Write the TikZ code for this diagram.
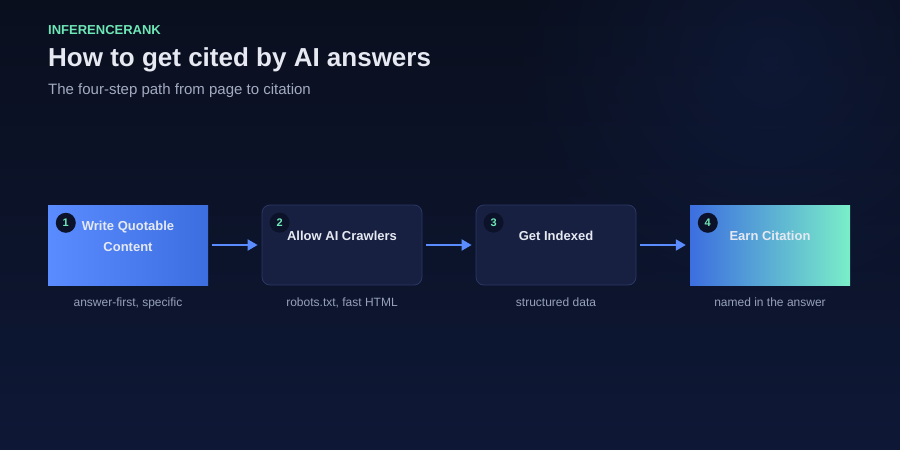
\documentclass[tikz,border=0pt]{standalone}
\usepackage{fontspec}
\setmainfont{Liberation Sans}
\usetikzlibrary{positioning,arrows.meta,fadings}
\definecolor{irBgTop}{HTML}{0A0F1E}
\definecolor{irBgBot}{HTML}{0E1836}
\definecolor{irGlow}{HTML}{12214A}
\definecolor{irGreen}{HTML}{6EE7B7}
\definecolor{irText}{HTML}{E6E9F2}
\definecolor{irMuted}{HTML}{A3ABC3}
\definecolor{irCap}{HTML}{98A1BA}
\definecolor{irBlue}{HTML}{5B8CFF}
\definecolor{irBlueDk}{HTML}{3C6EE0}
\definecolor{irMint}{HTML}{7AEEC8}
\definecolor{irCard}{HTML}{172040}
\definecolor{irEdge}{HTML}{2B3763}
\definecolor{irBadge}{HTML}{0B1229}
\tikzfading[name=glowfade, inner color=transparent!55, outer color=transparent!100]

\begin{document}
\begin{tikzpicture}[x=1pt,y=-1pt,
  card/.style={minimum width=160pt, minimum height=80pt, inner sep=0pt},
  darkcard/.style={card, rounded corners=8pt, fill=irCard, draw=irEdge, line width=0.8pt},
  badge/.style={circle, fill=irBadge, minimum size=20pt, inner sep=0pt, text=irGreen, font=\bfseries\fontsize{11}{13}\selectfont},
  cardtitle/.style={text=irText, align=center, font=\bfseries\fontsize{13}{21}\selectfont},
  caption/.style={text=irCap, inner sep=0pt, font=\fontsize{12}{14}\selectfont},
  flow/.style={irBlue, line width=2pt, -{Triangle[length=10pt,width=11pt]}, shorten <=4pt, shorten >=4pt}]
  % Background
  \useasboundingbox (0,0) rectangle (900,450);
  \clip (0,0) rectangle (900,450);
  \shade[top color=irBgTop, bottom color=irBgBot] (0,0) rectangle (900,450);
  \fill[irGlow, path fading=glowfade] (770,60) circle (260);

  % Header
  \node[anchor=base west, inner sep=0pt, text=irGreen, font=\bfseries\fontsize{13}{15}\selectfont] (brand) at (48,34) {INFERENCERANK};
  \node[anchor=base west, inner sep=0pt, text=irText, font=\bfseries\fontsize{26}{30}\selectfont] (title) at (48,66) {How to get cited by AI answers};
  \node[anchor=base west, inner sep=0pt, text=irMuted, font=\fontsize{15}{18}\selectfont] (subtitle) at (48,94) {The four-step path from page to citation};

  % Steps
  \node[card, left color=irBlue, right color=irBlueDk] (write) at (128,245) {};
  \node[darkcard] (allow) at (342,245) {};
  \node[darkcard] (index) at (556,245) {};
  \node[card, left color=irBlueDk, right color=irMint] (earn) at (770,245) {};

  \node[cardtitle] (t1) at (128,236) {Write Quotable\\Content};
  \node[cardtitle] (t2) at ([yshift=9pt]allow.center) {Allow AI Crawlers};
  \node[cardtitle] (t3) at ([yshift=9pt]index.center) {Get Indexed};
  \node[cardtitle] (t4) at ([yshift=9pt]earn.center) {Earn Citation};

  % Badges
  \node[badge] (n1) at ([xshift=18pt,yshift=-18pt]write.north west) {1};
  \node[badge] (n2) at ([xshift=18pt,yshift=-18pt]allow.north west) {2};
  \node[badge] (n3) at ([xshift=18pt,yshift=-18pt]index.north west) {3};
  \node[badge] (n4) at ([xshift=18pt,yshift=-18pt]earn.north west) {4};

  % Captions
  \node[caption, below=12pt of write] (c1) {answer-first, specific};
  \node[caption, below=12pt of allow] (c2) {robots.txt, fast HTML};
  \node[caption, below=12pt of index] (c3) {structured data};
  \node[caption, below=12pt of earn] (c4) {named in the answer};

  % Flow
  \draw[flow] (write) -- (allow);
  \draw[flow] (allow) -- (index);
  \draw[flow] (index) -- (earn);
\end{tikzpicture}
\end{document}
